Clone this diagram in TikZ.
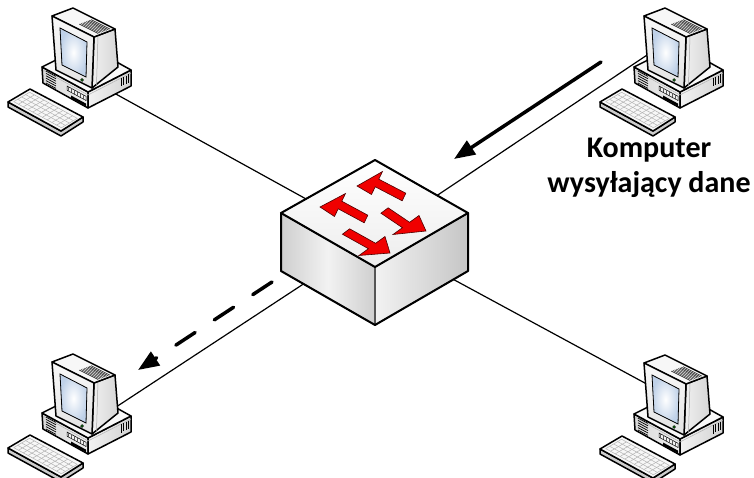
\documentclass[tikz,border=0pt]{standalone}
\usepackage{fontspec}
\setmainfont{Carlito}
\usetikzlibrary{arrows.meta}

\definecolor{scrblue}{HTML}{BFD1E8}
\definecolor{arrred}{HTML}{F00000}

\tikzset{
  cable/.style={line width=1.2pt, black},
  pcline/.style={line width=1.5pt, line join=round, draw=black},
  thinline/.style={line width=0.5pt},
  swline/.style={line width=2pt, line join=round, draw=black},
  redarrow/.style={fill=arrred, draw=black!70!red, line width=0.6pt, line join=miter},
  flow/.style={line width=3.5pt, line cap=round, -{Triangle[length=21pt,width=16pt]}},
  caption/.style={font=\bfseries\fontsize{30}{35}\selectfont, anchor=base, inner sep=0pt},
  pics/computer/.style={code={
    % keyboard: sides, top and key grid
    \filldraw[pcline, fill=gray!40] (8,102) -- (8,107) -- (61,136) -- (83,122) -- (83,117) -- (61,131) -- cycle;
    \filldraw[pcline, fill=gray!6] (8,102) -- (30,89) -- (83,117) -- (61,131) -- cycle;
    \begin{scope}[shift={(8,102)}, x={(53pt,-29pt)}, y={(22pt,13pt)}]
      \foreach \t in {0.14,0.32,0.5,0.68,0.86}
        \draw[thinline, gray!60] (0.05,\t) -- (0.95,\t);
      \foreach \s in {0.05,0.14,...,0.96}
        \draw[thinline, gray!60] (\s,0.14) -- (\s,0.86);
    \end{scope}
    % system unit
    \filldraw[pcline, left color=gray!30, right color=gray!12] (42,67) -- (88,92) -- (88,108) -- (43,83) -- cycle;
    \filldraw[pcline, left color=gray!10, right color=gray!35] (88,92) -- (131,70) -- (131,86) -- (88,108) -- cycle;
    \filldraw[pcline, fill=gray!5] (42,67) -- (86,45) -- (131,70) -- (88,92) -- cycle;
    \draw[thinline, gray!60] (43,70) -- (88,95) -- (131,73);
    \foreach \k in {0,...,5}
      \draw[line width=0.7pt] (46,{71+2.4*\k}) -- (56,{76.4+2.4*\k});
    \filldraw[thinline, fill=gray!10] (67,86) -- (86,96.3) -- (86,100.5) -- (67,90.2) -- cycle;
    \foreach \k in {0,...,5}
      \draw[thinline, gray!70!black] ({68.5+3*\k},{86.8+1.63*\k}) -- ({68.5+3*\k},{90.8+1.63*\k});
    \fill[black] (71,95.5) -- (86,103.6) -- (86,106.2) -- (71,98.1) -- cycle;
    \foreach \x/\ya/\yb in {121/78/86.5, 123.5/77/85.2, 126/75.8/84, 128.5/74.5/82.7}
      \draw[line width=0.7pt] (\x,\ya) -- (\x,\yb);
    % monitor: side, top with vents, bezel, screen
    \filldraw[pcline, left color=gray!12, right color=gray!32] (94,37) -- (115,29) -- (118,67) -- (92,88) -- cycle;
    \draw[thinline, gray!70] (98,36) -- (96.5,85);
    \filldraw[pcline, fill=gray!6] (52,16) -- (73,8) -- (115,29) -- (94,37) -- cycle;
    \begin{scope}[shift={(52,16)}, x={(42pt,-21pt)}, y={(21pt,8pt)}]
      \foreach \b in {0.3,0.38,...,0.9}
        \draw[line width=0.6pt, gray!30!black] (0.5,\b) -- (0.95,\b);
    \end{scope}
    \filldraw[pcline, top color=gray!5, bottom color=gray!22] (52,16) -- (94,37) -- (92,88) -- (56,70) -- cycle;
    \filldraw[line width=0.8pt, inner color=white, outer color=scrblue] (60,28) -- (87,42) -- (86,77) -- (62,65) -- cycle;
    \filldraw[thinline, fill=green!55!black] (82,80) circle (1.4);
  }}
}

\begin{document}
\begin{tikzpicture}[x=1pt, y=-1pt]
  \useasboundingbox (0,0) rectangle (754,478);

  % cable end points
  \coordinate (sw) at (375,237);
  \coordinate (pcTL) at (85,77);
  \coordinate (pcTR) at (677,35);
  \coordinate (pcBL) at (110,411);
  \coordinate (pcBR) at (667,395);

  % cables
  \draw[cable] (pcTL) -- (sw);
  \draw[cable] (pcTR) -- (sw);
  \draw[cable] (pcBL) -- (sw);
  \draw[cable] (pcBR) -- (sw);

  % computers
  \pic (compTL) at (0,0) {computer};
  \pic (compTR) at (592,0) {computer};
  \pic (compBL) at (0,346) {computer};
  \pic (compBR) at (592,347) {computer};

  % switch
  \filldraw[line width=1pt, draw=black, left color=gray!38, right color=gray!38, middle color=gray!10]
    (281,213) -- (375,267) -- (375,325) -- (281,271) -- cycle;
  \filldraw[line width=1pt, draw=black, left color=gray!10, right color=gray!45]
    (375,267) -- (468,213) -- (468,271) -- (375,325) -- cycle;
  \filldraw[line width=1pt, draw=black, top color=white, bottom color=gray!14]
    (375,160) -- (468,213) -- (375,267) -- (281,213) -- cycle;
  \draw[swline] (375,160) -- (468,213) -- (468,271) -- (375,325) -- (281,271) -- (281,213) -- cycle;
  \draw[swline] (281,213) -- (375,267) -- (468,213);

  % traffic arrows on the switch
  \filldraw[redarrow] (405.8,193.2) -- (378.8,179.2) -- (382.5,171.5) -- (357,186)
    -- (371.5,194.5) -- (375.2,186.8) -- (402.2,200.8) -- cycle;
  \filldraw[redarrow] (367.8,215.2) -- (341.8,201.2) -- (345.5,193.5) -- (320,207)
    -- (334.5,216.5) -- (338.2,208.8) -- (364.2,222.8) -- cycle;
  \filldraw[redarrow] (388.1,207.8) -- (409.6,222.3) -- (419,215.5) -- (426,231)
    -- (393,234.5) -- (402.4,227.7) -- (380.9,213.2) -- cycle;
  \filldraw[redarrow] (349.6,228.8) -- (375.6,243.3) -- (385,236.5) -- (390,253)
    -- (359,255.5) -- (368.4,248.7) -- (342.4,234.2) -- cycle;

  % data flow
  \coordinate (inStart) at (601,62);
  \coordinate (inEnd) at (454,159);
  \coordinate (outStart) at (272,282);
  \coordinate (outEnd) at (138,370);
  \draw[flow] (inStart) -- (inEnd);
  \draw[flow, dash pattern=on 23pt off 23pt] (outStart) -- (outEnd);

  % caption
  \node[caption] (cap1) at (649,158) {Komputer};
  \node[caption] (cap2) at (649,193) {wysyłający dane};
\end{tikzpicture}
\end{document}
